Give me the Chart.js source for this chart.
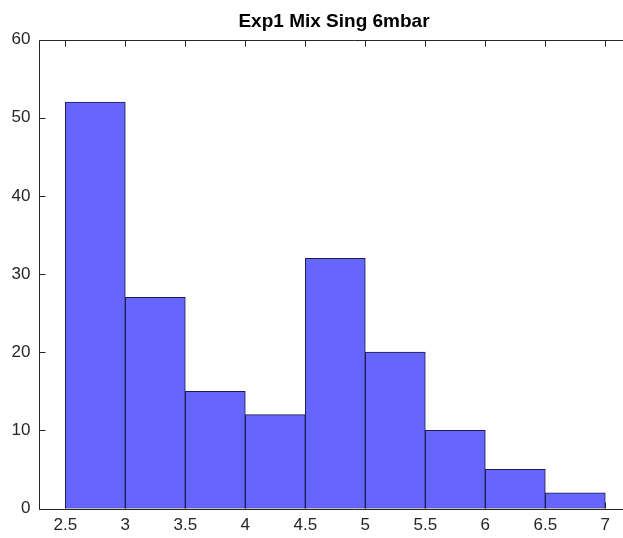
<!DOCTYPE html>
<html>
<head>
<meta charset="utf-8">
<script src="https://cdn.jsdelivr.net/npm/chart.js@4.4.1/dist/chart.umd.min.js"></script>
<style>
  html, body { margin: 0; padding: 0; background: #ffffff; }
  #wrap { width: 623px; height: 538px; overflow: hidden; position: relative; }
  canvas { display: block; }
</style>
</head>
<body>
<div id="wrap"><canvas id="c" width="668" height="538"></canvas></div>
<script>
// Histogram bin edges and counts
const binEdges = [2.5, 3, 3.5, 4, 4.5, 5, 5.5, 6, 6.5, 7];
const counts = [52, 27, 15, 12, 32, 20, 10, 5, 2];
const xTicks = [2.5, 3, 3.5, 4, 4.5, 5, 5.5, 6, 6.5, 7];
const yTicks = [0, 10, 20, 30, 40, 50, 60];
const titleText = 'Exp1 Mix Sing 6mbar';

const axisColor = '#262626';
const fontFamily = 'Arial, "Liberation Sans", Helvetica, sans-serif';

// bars are placed at bin centers on a linear axis, one bin wide each
const barData = counts.map((v, i) => ({ x: (binEdges[i] + binEdges[i + 1]) / 2, y: v }));

// box-style axes with inward tick marks
const boxAxes = {
  id: 'boxAxes',
  beforeDatasetsDraw(chart) {
    const { ctx, chartArea: a, scales: { x } } = chart;
    ctx.save();
    ctx.strokeStyle = axisColor;
    ctx.lineWidth = 1;
    ctx.beginPath();
    xTicks.forEach(t => {
      const px = Math.round(x.getPixelForValue(t)) + 0.5;
      ctx.moveTo(px, a.bottom); ctx.lineTo(px, a.bottom - 6);
    });
    ctx.stroke();
    ctx.restore();
  },
  afterDatasetsDraw(chart) {
    const { ctx, chartArea: a, scales: { x, y } } = chart;
    ctx.save();
    ctx.strokeStyle = axisColor;
    ctx.lineWidth = 1;
    const L = Math.round(a.left) + 0.5, T = Math.round(a.top) + 0.5, B = Math.round(a.bottom) + 0.5;
    ctx.beginPath();
    ctx.moveTo(L, T); ctx.lineTo(a.right + 5, T);
    ctx.moveTo(L, T); ctx.lineTo(L, B);
    ctx.moveTo(L, B); ctx.lineTo(a.right + 5, B);
    xTicks.forEach(t => {
      const px = Math.round(x.getPixelForValue(t)) + 0.5;
      ctx.moveTo(px, T); ctx.lineTo(px, T + 6);
    });
    yTicks.forEach(t => {
      const py = Math.round(y.getPixelForValue(t)) + 0.5;
      ctx.moveTo(L, py); ctx.lineTo(L + 6, py);
    });
    ctx.stroke();
    ctx.restore();
  }
};

new Chart(document.getElementById('c'), {
  type: 'bar',
  data: {
    datasets: [{
      data: barData,
      backgroundColor: '#6666ff',
      borderColor: '#1c1c4e',
      borderWidth: 1,
      borderSkipped: false,
      barPercentage: 1,
      categoryPercentage: 1
    }]
  },
  options: {
    responsive: false,
    devicePixelRatio: 1,
    animation: false,
    layout: { padding: { left: 0, right: 0, top: 0, bottom: 0 } },
    plugins: {
      legend: { display: false },
      tooltip: { enabled: false },
      title: {
        display: true,
        text: titleText,
        color: '#000000',
        font: { family: fontFamily, size: 19, weight: 'bold' },
        padding: { top: 10.6, bottom: 6.1 }
      }
    },
    scales: {
      x: {
        type: 'linear',
        offset: false,
        min: 2.2767,
        max: 7.5225,
        grid: { display: false, drawTicks: false, offset: false },
        border: { display: false },
        afterBuildTicks(scale) { scale.ticks = xTicks.map(v => ({ value: v })); },
        afterFit(scale) { scale.height = 29.5; },
        ticks: {
          color: axisColor,
          font: { family: fontFamily, size: 17 },
          padding: 7,
          maxRotation: 0,
          autoSkip: false,
          callback: v => String(v)
        }
      },
      y: {
        min: 0,
        max: 60,
        grid: { display: false, drawTicks: false },
        border: { display: false },
        afterBuildTicks(scale) { scale.ticks = yTicks.map(v => ({ value: v })); },
        afterFit(scale) { scale.width = 38.5; },
        ticks: {
          color: axisColor,
          font: { family: fontFamily, size: 17 },
          padding: 8,
          callback: v => String(v)
        }
      }
    }
  },
  plugins: [boxAxes]
});
</script>
</body>
</html>
